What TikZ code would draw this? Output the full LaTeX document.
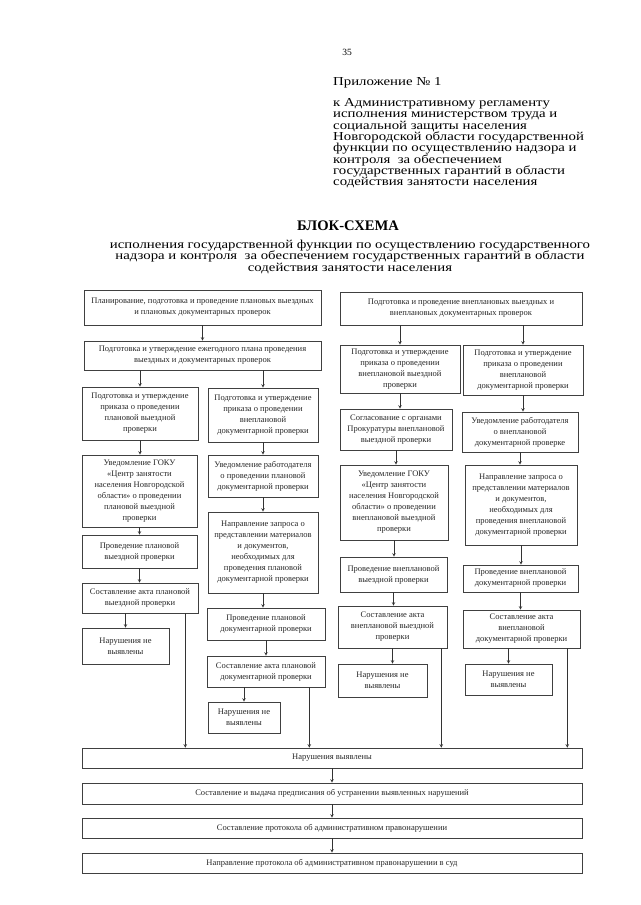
\documentclass[tikz,border=0pt]{standalone}
\usepackage{fontspec}
\setmainfont{Liberation Serif}
\usepackage{tikz}

\newcommand{\plotnostrok}{\lineskiplimit=-20pt\relax\lineskip=0pt\relax}

\tikzset{
    blok/.style={draw=black!75, line width=0.6pt, align=center, inner sep=1pt, text=black!85, font=\fontsize{8.5}{11}\selectfont},
    razm/.style 2 args={minimum width=#1pt, minimum height=#2pt},
    strel/.style={->, draw=black!80, line width=0.6pt},
    shapka/.style={inner sep=0pt, yscale=0.82, transform shape, font=\fontsize{14.8}{13.8}\selectfont\plotnostrok}
}

\begin{document}
\begin{tikzpicture}[x=1pt, y=-1pt, >=stealth]
        \useasboundingbox (0, 0) rectangle (640, 905);

        % header
        \node[anchor=base, font=\fontsize{9.5}{10}\selectfont] (nomer) at (347, 55) {35};
        \node[shapka, anchor=base west] (prilozh) at (333, 85) {Приложение № 1};
        \node[shapka, anchor=north west, align=left] (reglament) at (333, 98.5) {к Административному регламенту\\исполнения министерством труда и\\социальной защиты населения\\Новгородской области государственной\\функции по осуществлению надзора и\\контроля~~за обеспечением\\государственных гарантий в области\\содействия занятости населения};
        \node[anchor=base, inner sep=0pt, font=\bfseries\fontsize{14.6}{15}\selectfont] (zagol) at (348, 230) {БЛОК-СХЕМА};
        \node[shapka, anchor=north, align=center, font=\fontsize{14.8}{14}\selectfont\plotnostrok] (podzagol) at (350, 239.5) {исполнения государственной функции по осуществлению государственного\\надзора и контроля~~за обеспечением государственных гарантий в области\\содействия занятости населения};

        % top row
        \node[blok, razm={237}{35}] (plan) at (202.5, 307.5) {Планирование, подготовка и проведение плановых выездных\\и плановых документарных проверок};
        \node[blok, razm={242}{33}] (vneplan) at (461, 308.5) {Подготовка и проведение внеплановых выездных и\\внеплановых документарных проверок};
        \node[blok, razm={237}{29}] (godplan) at (202.5, 355.5) {Подготовка и утверждение ежегодного плана проведения\\выездных и документарных проверок};

        % planned on-site
        \node[blok, razm={116}{53}] (A1) at (140, 413.5) {Подготовка и утверждение\\приказа о проведении\\плановой выездной\\проверки};
        \node[blok, razm={115}{72}] (A2) at (139.5, 491) {Уведомление ГОКУ\\«Центр занятости\\населения Новгородской\\области» о проведении\\плановой выездной\\проверки};
        \node[blok, razm={115}{33}] (A3) at (139.5, 551.5) {Проведение плановой\\выездной проверки};
        \node[blok, razm={116}{30}] (A4) at (140, 598) {Составление акта плановой\\выездной проверки};
        \node[blok, razm={87}{36}] (A5) at (125.5, 646) {Нарушения не\\выявлены};

        % planned documentary
        \node[blok, razm={110}{54}] (B1) at (263, 415) {Подготовка и утверждение\\приказа о проведении\\внеплановой\\документарной проверки};
        \node[blok, razm={110}{42}] (B2) at (263, 476) {Уведомление работодателя\\о проведении плановой\\документарной проверки};
        \node[blok, razm={110}{81}] (B3) at (263, 552.5) {Направление запроса о\\представлении материалов\\и документов,\\необходимых для\\проведения плановой\\документарной проверки};
        \node[blok, razm={118}{32}] (B4) at (266, 624) {Проведение плановой\\документарной проверки};
        \node[blok, razm={118}{31}] (B5) at (266, 671.5) {Составление акта плановой\\документарной проверки};
        \node[blok, razm={72}{31}] (B6) at (244, 717.5) {Нарушения не\\выявлены};

        % unplanned on-site
        \node[blok, razm={120}{48}] (C1) at (400, 369) {Подготовка и утверждение\\приказа о проведении\\внеплановой выездной\\проверки};
        \node[blok, razm={112}{41}] (C2) at (396, 429.5) {Согласование с органами\\Прокуратуры внеплановой\\выездной проверки};
        \node[blok, razm={108}{75}] (C3) at (394, 502.5) {Уведомление ГОКУ\\«Центр занятости\\населения Новгородской\\области» о проведении\\внеплановой выездной\\проверки};
        \node[blok, razm={107}{35}] (C4) at (393.5, 574.5) {Проведение внеплановой\\выездной проверки};
        \node[blok, razm={109}{42}] (C5) at (392.5, 627) {Составление акта\\внеплановой выездной\\проверки};
        \node[blok, razm={89}{33}] (C6) at (382.5, 680.5) {Нарушения не\\выявлены};

        % unplanned documentary
        \node[blok, razm={120}{50}] (D1) at (523, 370) {Подготовка и утверждение\\приказа о проведении\\внеплановой\\документарной проверки};
        \node[blok, razm={116}{40}] (D2) at (520, 432) {Уведомление работодателя\\о внеплановой\\документарной проверке};
        \node[blok, razm={112}{80}] (D3) at (521, 505) {Направление запроса о\\представлении материалов\\и документов,\\необходимых для\\проведения внеплановой\\документарной проверки};
        \node[blok, razm={115}{27}] (D4) at (520.5, 578.5) {Проведение внеплановой\\документарной проверки};
        \node[blok, razm={117}{38}] (D5) at (521.5, 629) {Составление акта\\внеплановой\\документарной проверки};
        \node[blok, razm={87}{31}] (D6) at (508.5, 679.5) {Нарушения не\\выявлены};

        % bottom row
        \node[blok, razm={500}{20}] (vyyavl) at (332, 758) {Нарушения выявлены};
        \node[blok, razm={500}{21}] (predpis) at (332, 793.5) {Составление и выдача предписания об устранении выявленных нарушений};
        \node[blok, razm={500}{20}] (protokol) at (332, 828) {Составление протокола об административном правонарушении};
        \node[blok, razm={500}{20}] (sud) at (332, 863) {Направление протокола об административном правонарушении в суд};

        % arrows
        \draw[strel] (plan.south) -- (godplan.north);
        \draw[strel] (godplan.south -| A1.north) -- (A1.north);
        \draw[strel] (godplan.south -| B1.north) -- (B1.north);
        \draw[strel] (vneplan.south -| C1.north) -- (C1.north);
        \draw[strel] (vneplan.south -| D1.north) -- (D1.north);

        \draw[strel] (A1.south) -- (A1.south |- A2.north);
        \draw[strel] (A2.south) -- (A2.south |- A3.north);
        \draw[strel] (A3.south) -- (A3.south |- A4.north);
        \draw[strel] (A4.south -| A5.north) -- (A5.north);

        \draw[strel] (B1.south) -- (B1.south |- B2.north);
        \draw[strel] (B2.south) -- (B2.south |- B3.north);
        \draw[strel] (B3.south) -- (B3.south |- B4.north);
        \draw[strel] (B4.south) -- (B4.south |- B5.north);
        \draw[strel] (B5.south -| B6.north) -- (B6.north);

        \draw[strel] (C1.south) -- (C1.south |- C2.north);
        \draw[strel] (C2.south) -- (C2.south |- C3.north);
        \draw[strel] (C3.south) -- (C3.south |- C4.north);
        \draw[strel] (C4.south) -- (C4.south |- C5.north);
        \draw[strel] (C5.south) -- (C5.south |- C6.north);

        \draw[strel] (D1.south) -- (D1.south |- D2.north);
        \draw[strel] (D2.south) -- (D2.south |- D3.north);
        \draw[strel] (D3.south) -- (D3.south |- D4.north);
        \draw[strel] (D4.south) -- (D4.south |- D5.north);
        \draw[strel] (D5.south -| D6.north) -- (D6.north);

        \draw[strel] ([xshift=-13pt]A4.south east) -- ([xshift=-13pt]A4.south east |- vyyavl.north);
        \draw[strel] ([xshift=-16pt]B5.south east) -- ([xshift=-16pt]B5.south east |- vyyavl.north);
        \draw[strel] ([xshift=-6pt]C5.south east) -- ([xshift=-6pt]C5.south east |- vyyavl.north);
        \draw[strel] ([xshift=-13pt]D5.south east) -- ([xshift=-13pt]D5.south east |- vyyavl.north);

        \draw[strel] (vyyavl.south) -- (predpis.north);
        \draw[strel] (predpis.south) -- (protokol.north);
        \draw[strel] (protokol.south) -- (sud.north);
    \end{tikzpicture}
\end{document}
